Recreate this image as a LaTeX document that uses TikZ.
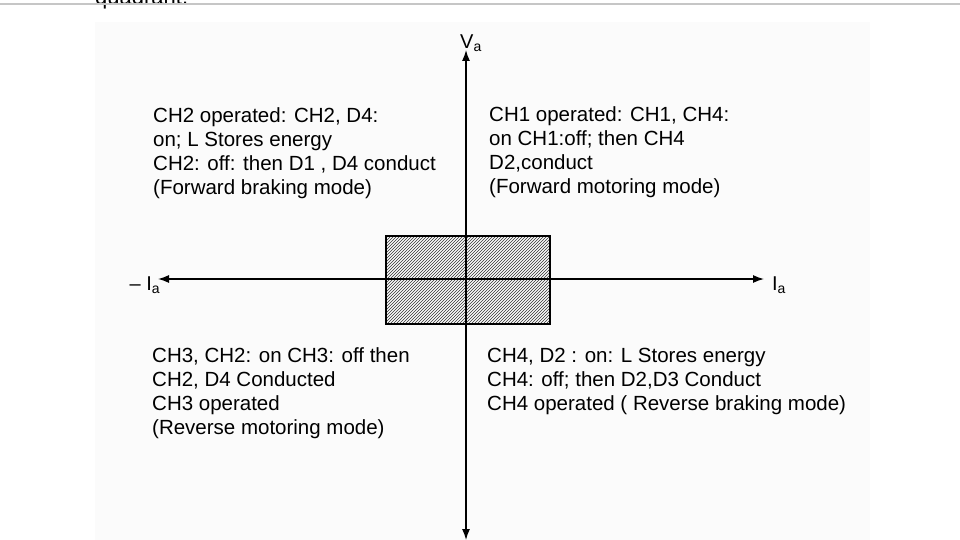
\documentclass[tikz,border=0pt]{standalone}
\usepackage{fontspec}
\setmainfont{Liberation Sans}
\usetikzlibrary{patterns,arrows.meta}
\begin{document}
\begin{tikzpicture}[x=1pt,y=-1pt,
  txt/.style={anchor=west,font=\fontsize{20.5}{24}\selectfont,align=left,inner sep=0},
  axis/.style={line width=1.3pt,-{Latex[length=11pt,width=8pt]}},
  lab/.style={font=\fontsize{20}{22}\selectfont,inner sep=0}]
\useasboundingbox (0,0) rectangle (960,540);
\begin{scope}
\clip (0,0) rectangle (960,540);
\node[anchor=base west,font=\fontsize{22}{22}\selectfont\rmfamily,inner sep=0] (q) at (95,5) {quadrant.};
\end{scope}
\fill[gray!45] (0,3) rectangle (960,5);
\fill[black!1.5] (95,22) rectangle (870,540);
\node (box) [draw,line width=1.3pt,pattern=north east lines,pattern color=black!80,minimum width=164pt,minimum height=88pt,inner sep=0] at (468,280) {};
\coordinate (vb) at (466,540);
\coordinate (vt) at (466,50);
\coordinate (hl) at (158,279);
\coordinate (hr) at (764,279);
\draw[axis] (466,279) -- (vt);
\draw[axis] (466,279) -- (vb);
\draw[axis] (466,279) -- (hl);
\draw[axis] (466,279) -- (hr);
\node[lab] (va) at (471,43) {V\textsubscript{a}};
\node[lab] (ia) at (779,285) {I\textsubscript{a}};
\node[lab] (mia) at (145,285) {– I\textsubscript{a}};
\node[txt] (tl) at (153,153) {CH2 operated: CH2, D4:\\on; L Stores energy\\CH2: off: then D1 , D4 conduct\\(Forward braking mode)};
\node[txt] (tr) at (489,152) {CH1 operated: CH1, CH4:\\on CH1:off; then CH4\\D2,conduct\\(Forward motoring mode)};
\node[txt] (bl) at (152,393) {CH3, CH2: on CH3: off then\\CH2, D4 Conducted\\CH3 operated\\ (Reverse motoring mode)};
\node[txt] (br) at (487,381) {CH4, D2 : on: L Stores energy\\CH4: off; then D2,D3 Conduct\\CH4 operated ( Reverse braking mode)};
\end{tikzpicture}
\end{document}
